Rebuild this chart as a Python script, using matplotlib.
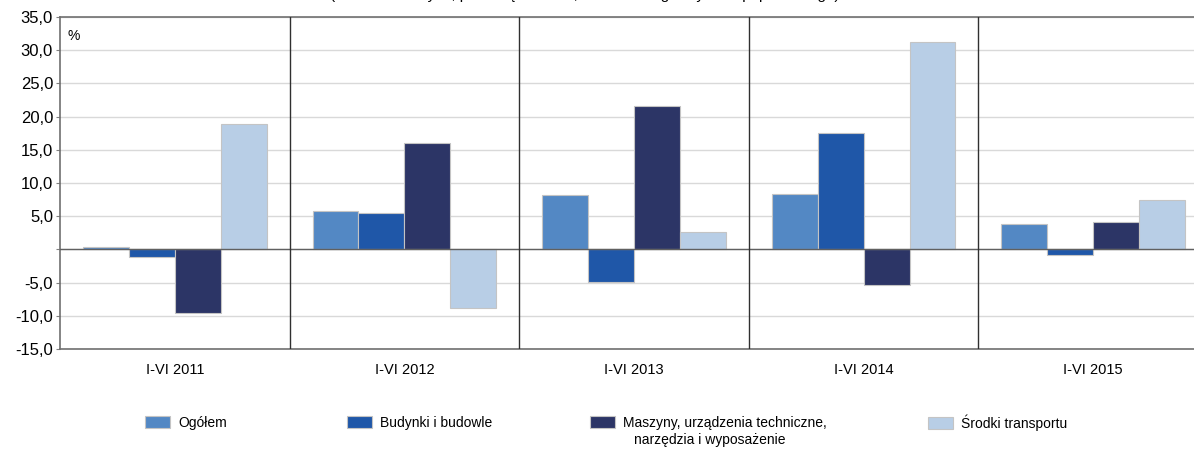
import matplotlib.pyplot as plt
import numpy as np

plt.rcParams["font.family"] = ["Liberation Sans", "DejaVu Sans"]

periods = ["I-VI 2011", "I-VI 2012", "I-VI 2013", "I-VI 2014", "I-VI 2015"]
series_names = [
    "Ogółem",
    "Budynki i budowle",
    "Maszyny, urządzenia techniczne,",
    "Środki transportu",
]
ogolem = [0.3, 5.75, 8.2, 8.35, 3.85]
budynki = [-1.15, 5.5, -4.85, 17.6, -0.85]
maszyny = [-9.65, 16.0, 21.6, -5.4, 4.1]
srodki = [18.9, -8.8, 2.55, 31.25, 7.5]
colors = ["#5388c4", "#1f57a8", "#2c3566", "#b8cee6"]

yticks = np.arange(-15, 36, 5)

W, H = 1194, 450
fig = plt.figure(figsize=(W / 100, H / 100), dpi=100)
ax = fig.add_axes([60 / W, 101 / H, 1148 / W, 332 / H])

x = np.arange(len(periods)) + 0.5
width = 0.2
handles = []
for k, vals in enumerate([ogolem, budynki, maszyny, srodki]):
    b = ax.bar(x + (k - 1.5) * width, vals, width=width, color=colors[k],
               edgecolor="#c4c4c4", linewidth=0.8, zorder=3)
    handles.append(b)

ax.set_xlim(0, len(periods))
ax.set_ylim(-15, 35)
ax.set_yticks(yticks)
ax.set_yticklabels(["" if v == 0 else f"{v:.1f}".replace(".", ",") for v in yticks],
                   fontsize=12)
ax.set_xticks(x)
ax.set_xticklabels(periods, fontsize=10.5)
ax.tick_params(axis="x", length=0, pad=10)
ax.tick_params(axis="y", length=3, color="#808080", pad=2)

ax.grid(True, axis="y", color="#d9d9d9", linewidth=1, zorder=0)
ax.axhline(0, color="#606060", linewidth=1, zorder=4)
for i in range(1, len(periods)):
    ax.axvline(i, color="#303030", linewidth=1, zorder=4)

for side in ["left", "bottom", "top"]:
    ax.spines[side].set_color("#707070")
    ax.spines[side].set_linewidth(1.2)
ax.spines["right"].set_visible(False)

fig.text(67 / W, 1 - 36 / H, "%", fontsize=10, ha="left", va="center")

# title sits above the top edge, only its descenders show (as in the source)
fig.text(0.49, 1 + 1 / H,
         "(w cenach stałych, przedsiębiorstwa, okres analogiczny roku poprzedniego)",
         ha="center", va="baseline", fontsize=11)

leg_x = [145, 347, 590, 928]
for k, h in enumerate(handles):
    fig.legend([h], [series_names[k]], loc="center left",
               bbox_to_anchor=(leg_x[k] / W, 1 - 423 / H),
               frameon=False, fontsize=10, borderpad=0, borderaxespad=0,
               handlelength=1.8, handleheight=0.95, handletextpad=0.6)
fig.text(634 / W, 1 - 440 / H, "narzędzia i wyposażenie", fontsize=10,
         ha="left", va="center")

fig.savefig("out.png", dpi=100)
